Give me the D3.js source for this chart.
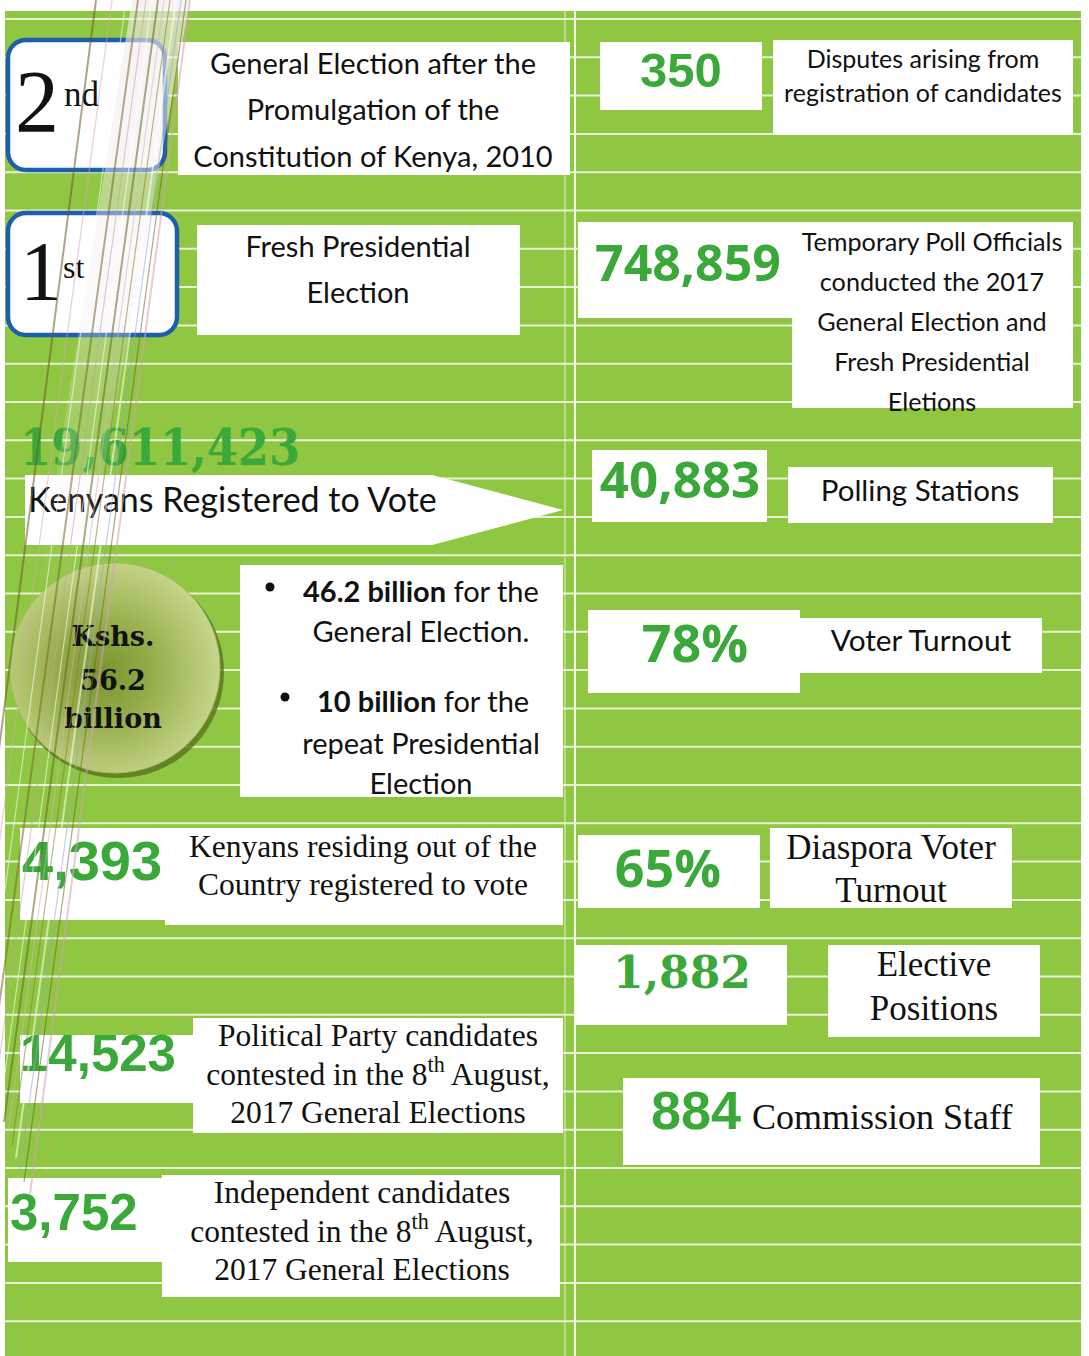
<!DOCTYPE html>
<html><head><meta charset="utf-8">
<script src="https://cdn.jsdelivr.net/npm/d3@7"></script>
<style>html,body{margin:0;padding:0;background:#fff;} svg{display:block;}</style>
</head><body>
<script>
// ---------------- DATA ----------------
const rankNumbers = ["2", "1"];
const rankSuffixes = ["nd", "st"];
const rankDescriptions = [
  ["General Election after the", "Promulgation of the", "Constitution of Kenya, 2010"],
  ["Fresh Presidential", "Election"]
];
const registeredVoters = "19,611,423";
const registeredLabel = "Kenyans Registered to Vote";
const budgetTotal = ["Kshs.", "56.2", "billion"];
const budgetAmounts = ["46.2 billion", "10 billion"];
const budgetPurposes = [[" for the", "General Election."], [" for the", "repeat Presidential", "Election"]];
const leftFigures = ["4,393", "14,523", "3,752"];
const leftDescriptions = [
  ["Kenyans residing out of the", "Country registered to vote"],
  ["Political Party candidates", "contested in the 8th August,", "2017 General Elections"],
  ["Independent candidates", "contested in the 8th August,", "2017 General Elections"]
];
const rightFigures = ["350", "748,859", "40,883", "78%", "65%", "1,882"];
const rightDescriptions = [
  ["Disputes arising from", "registration of candidates"],
  ["Temporary Poll Officials", "conducted the 2017", "General Election and", "Fresh Presidential", "Eletions"],
  ["Polling Stations"],
  ["Voter Turnout"],
  ["Diaspora Voter", "Turnout"],
  ["Elective", "Positions"]
];
const staffFigure = "884";
const staffLabel = "Commission Staff";

// ---------------- LAYOUT / STYLE ----------------
const W = 1089, H = 1356;
const GREEN_BG = "#8fc642", NUM_GREEN = "#3ba93a", BLUE = "#1d5ead";
const HUM = "Lato, 'Open Sans', sans-serif";
const SERIF = "'Liberation Serif', 'Times New Roman', serif";
const SLAB = "'DejaVu Serif', serif";
const SANSB = "'Liberation Sans', Arial, sans-serif";
const OPEN = "'Open Sans', sans-serif";

const rankLayout = [
  {box: [8, 40, 157, 130], num: [15, 131], ns: 88, suf: [64, 106], ss: 35, desc: [178, 42, 392, 133], cx: 373, cy0: 62, dy: 46.5},
  {box: [8, 213, 169, 122], num: [20, 300], ns: 84, suf: [63, 278], ss: 32, desc: [197, 225, 323, 110], cx: 358, cy0: 245, dy: 46}
];
const leftLayout = [
  {nb: [20, 828, 148, 92], tb: [165, 828, 398, 97], nx: 22, ny: 860, ns: 56, cx: 363, cy0: 846, dy: 38},
  {nb: [20, 1035, 175, 68], tb: [193, 1018, 370, 115], nx: 20, ny: 1053, ns: 51, cx: 378, cy0: 1035, dy: 38.5},
  {nb: [8, 1178, 157, 84], tb: [162, 1175, 398, 122], nx: 10, ny: 1212, ns: 51, cx: 362, cy0: 1192, dy: 38.5}
];
const rightLayout = [
  {nb: [600, 42, 162, 68], ncx: 681, ncy: 70, ns: 49, nf: SANSB, tb: [773, 40, 300, 95], cx: 923, cy0: 58, dy: 34, ts: 25, tf: HUM},
  {nb: [578, 222, 214, 96], ncx: 688, ncy: 262, ns: 50, nf: OPEN, tb: [792, 222, 281, 186], cx: 932, cy0: 241, dy: 40, ts: 25.2, tf: HUM},
  {nb: [592, 450, 175, 72], ncx: 680, ncy: 478, ns: 51, nf: OPEN, tb: [788, 467, 265, 56], cx: 920, cy0: 489, dy: 0, ts: 29.5, tf: HUM},
  {nb: [588, 610, 212, 83], ncx: 695, ncy: 641, ns: 52, nf: OPEN, tb: [800, 618, 242, 55], cx: 921, cy0: 639, dy: 0, ts: 29.8, tf: HUM},
  {nb: [578, 835, 182, 73], ncx: 668, ncy: 866, ns: 52, nf: OPEN, tb: [770, 828, 242, 80], cx: 891, cy0: 847, dy: 43, ts: 35, tf: SERIF},
  {nb: [575, 945, 212, 80], ncx: 682, ncy: 972, ns: 44, nf: SLAB, tb: [828, 945, 212, 92], cx: 934, cy0: 964, dy: 44, ts: 35, tf: SERIF}
];

// ---------------- SVG ----------------
const svg = d3.select("body").append("svg").attr("width", W).attr("height", H);
const defs = svg.append("defs");

const lens = defs.append("radialGradient").attr("id", "lens").attr("cx", "45%").attr("cy", "52%").attr("r", "55%");
[["0%", "#7a9530"], ["35%", "#8fa944"], ["75%", "#b1c56d"], ["100%", "#c6d58b"]]
  .forEach(([o, c]) => lens.append("stop").attr("offset", o).attr("stop-color", c));
const glow = defs.append("linearGradient").attr("id", "glow").attr("x1", "0").attr("y1", "0").attr("x2", "0").attr("y2", "1");
glow.append("stop").attr("offset", "0%").attr("stop-color", "#f4ecec").attr("stop-opacity", 0.65);
glow.append("stop").attr("offset", "100%").attr("stop-color", "#f4ecec").attr("stop-opacity", 0);

// background
svg.append("rect").attr("width", W).attr("height", H).attr("fill", "#fff");
svg.append("rect").attr("x", 5).attr("y", 11).attr("width", 1076).attr("height", H - 11).attr("fill", GREEN_BG);

// ruled lines via scale
const nLines = 35;
const yLine = d3.scaleLinear().domain([0, nLines - 1]).range([19, 19 + 38.3 * (nLines - 1)]);
svg.append("g").selectAll("line").data(d3.range(nLines)).join("line")
  .attr("x1", 5).attr("x2", 1081).attr("y1", d => yLine(d)).attr("y2", d => yLine(d))
  .attr("stroke", "#f2f8e6").attr("stroke-width", 2).attr("opacity", 0.9);
svg.append("line").attr("x1", 575).attr("x2", 575).attr("y1", 11).attr("y2", H).attr("stroke", "#f2f8e6").attr("stroke-width", 2);
svg.append("line").attr("x1", 565).attr("x2", 565).attr("y1", 11).attr("y2", H).attr("stroke", "#f2f8e6").attr("stroke-width", 1.2).attr("opacity", 0.7);

// helpers
function rect(g, [x, y, w, h], extra) {
  const r = g.append("rect").attr("x", x).attr("y", y).attr("width", w).attr("height", h).attr("fill", "#fff");
  if (extra) extra(r);
  return r;
}
function richText(t, str, size) {
  const m = str.match(/^(.*\d)(th)(.*)$/);
  if (m) {
    t.append("tspan").text(m[1]);
    t.append("tspan").text(m[2]).attr("font-size", size * 0.7).attr("dy", -size * 0.3);
    t.append("tspan").text(m[3]).attr("dy", size * 0.3);
  } else t.text(str);
}
function lines(g, arr, cx, cy0, dy, size, fam) {
  arr.forEach((s, i) => {
    const t = g.append("text").attr("x", cx).attr("y", cy0 + i * dy)
      .attr("text-anchor", "middle").attr("dominant-baseline", "central")
      .attr("font-family", fam).attr("font-size", size).attr("fill", "#111");
    richText(t, s, size);
  });
}

const main = svg.append("g");

// rank boxes
rankNumbers.forEach((n, i) => {
  const L = rankLayout[i];
  rect(main, L.box, r => r.attr("rx", 18).attr("stroke", BLUE).attr("stroke-width", 4.5));
  main.append("text").attr("x", L.num[0]).attr("y", L.num[1]).attr("font-family", SERIF)
    .attr("font-size", L.ns).attr("fill", "#111").text(n);
  main.append("text").attr("x", L.suf[0]).attr("y", L.suf[1]).attr("font-family", SERIF)
    .attr("font-size", L.ss).attr("fill", "#111").text(rankSuffixes[i]);
  rect(main, L.desc);
  lines(main, rankDescriptions[i], L.cx, L.cy0, L.dy, 29, HUM);
});

// registered voters
main.append("text").attr("x", 20).attr("y", 465).attr("font-family", SLAB).attr("font-weight", "bold")
  .attr("font-size", 50).attr("fill", NUM_GREEN).attr("textLength", 280).attr("lengthAdjust", "spacingAndGlyphs")
  .text(registeredVoters);
main.append("polygon").attr("points", [[25, 475], [432, 475], [563, 510], [432, 545], [25, 545]].map(p => p.join(",")).join(" "))
  .attr("fill", "#fff");
main.append("text").attr("x", 28).attr("y", 498).attr("dominant-baseline", "central")
  .attr("font-family", HUM).attr("font-size", 34).attr("fill", "#111").text(registeredLabel);

// budget circle
main.append("circle").attr("cx", 118).attr("cy", 672).attr("r", 106).attr("fill", "#56731c").attr("opacity", 0.8);
main.append("circle").attr("cx", 115).attr("cy", 668).attr("r", 105).attr("fill", "url(#lens)")
  .attr("stroke", "#a8bf64").attr("stroke-width", 1);
budgetTotal.forEach((s, i) => {
  main.append("text").attr("x", 113).attr("y", [636, 680, 718][i]).attr("text-anchor", "middle")
    .attr("dominant-baseline", "central").attr("font-family", SLAB).attr("font-weight", "bold")
    .attr("font-size", 27).attr("fill", "#111").text(s);
});

// budget box
rect(main, [240, 565, 323, 232]);
const bullets = [{bx: 270, tx: 303, y: 590, cont: [630]}, {bx: 285, tx: 317, y: 700, cont: [742, 782]}];
budgetAmounts.forEach((a, i) => {
  const B = bullets[i];
  main.append("circle").attr("cx", B.bx).attr("cy", B.y - 3).attr("r", 4.5).attr("fill", "#111");
  const t = main.append("text").attr("x", B.tx).attr("y", B.y).attr("dominant-baseline", "central")
    .attr("font-family", HUM).attr("font-size", 29).attr("fill", "#111");
  t.append("tspan").attr("font-weight", "bold").text(a);
  t.append("tspan").text(budgetPurposes[i][0]);
  budgetPurposes[i].slice(1).forEach((s, j) => {
    main.append("text").attr("x", 421).attr("y", B.cont[j]).attr("text-anchor", "middle").attr("dominant-baseline", "central")
      .attr("font-family", HUM).attr("font-size", 29).attr("fill", "#111").text(s);
  });
});

// left figures
leftFigures.forEach((f, i) => {
  const L = leftLayout[i];
  rect(main, L.nb);
  rect(main, L.tb);
  main.append("text").attr("x", L.nx).attr("y", L.ny).attr("dominant-baseline", "central")
    .attr("font-family", SANSB).attr("font-weight", "bold").attr("font-size", L.ns).attr("fill", NUM_GREEN).text(f);
  lines(main, leftDescriptions[i], L.cx, L.cy0, L.dy, 31.5, SERIF);
});

// right figures
rightFigures.forEach((f, i) => {
  const L = rightLayout[i];
  rect(main, L.nb);
  rect(main, L.tb);
  main.append("text").attr("x", L.ncx).attr("y", L.ncy).attr("text-anchor", "middle").attr("dominant-baseline", "central")
    .attr("font-family", L.nf).attr("font-weight", "bold").attr("font-size", L.ns).attr("fill", NUM_GREEN).text(f);
  lines(main, rightDescriptions[i], L.cx, L.cy0, L.dy, L.ts, L.tf);
});

// staff
rect(main, [623, 1078, 417, 87]);
main.append("text").attr("x", 651).attr("y", 1110).attr("dominant-baseline", "central")
  .attr("font-family", SANSB).attr("font-weight", "bold").attr("font-size", 54).attr("fill", NUM_GREEN).text(staffFigure);
main.append("text").attr("x", 752).attr("y", 1117).attr("dominant-baseline", "central")
  .attr("font-family", SERIF).attr("font-size", 36).attr("fill", "#111").text(staffLabel);

// decorative light streaks (overlay)
const streaks = svg.append("g").attr("pointer-events", "none");
streaks.append("polygon").attr("points", "132,0 190,0 80,600 36,600").attr("fill", "url(#glow)");
const streakTops = [96, 112, 126, 138, 146, 152, 158, 164, 170, 176, 181, 186, 190];
const streakBottoms = [-40, -30, -20, -12, -6, 0, 4, 8, 12, 16, 20, 24, 30];
const streakColors = ["#6d5b2a", "#d8a9b9", "#ffffff", "#7a6a30", "#c99fb0", "#ffffff", "#5f6b25", "#d9b3c1", "#8b7a3a", "#ffffff", "#9aa6d8", "#6f5e2c", "#d2a5b4"];
streaks.selectAll("line").data(streakTops).join("line")
  .attr("x1", d => d).attr("y1", 0)
  .attr("x2", (d, i) => streakBottoms[i]).attr("y2", (d, i) => 1050 + i * 12)
  .attr("stroke", (d, i) => streakColors[i]).attr("stroke-width", (d, i) => i % 3 === 0 ? 2 : 1.2)
  .attr("opacity", 0.55);
</script>
</body></html>
